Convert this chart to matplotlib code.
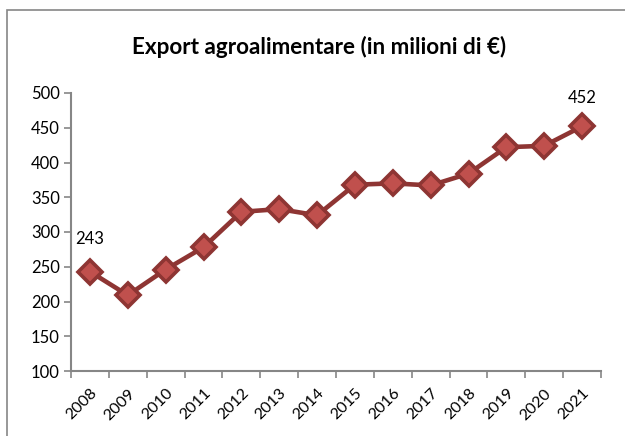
import matplotlib.pyplot as plt
from matplotlib.patches import Rectangle
from matplotlib.ticker import FixedLocator

plt.rcParams["font.family"] = ["Lato", "DejaVu Sans"]

years = ["2008", "2009", "2010", "2011", "2012", "2013", "2014",
         "2015", "2016", "2017", "2018", "2019", "2020", "2021"]
export = [243, 209, 246, 278, 329, 333, 324, 368, 370, 367, 384, 422, 424, 452]
yticks = [100, 150, 200, 250, 300, 350, 400, 450, 500]

LINE = "#8E3533"
FACE = "#C0504D"
AXIS = "#868686"

fig = plt.figure(figsize=(6.25, 4.36), dpi=100)
fig.patches.append(Rectangle((7 / 625, -0.1), 1.2, 1 - 10 / 436 + 0.1,
                             transform=fig.transFigure, fill=False,
                             ec=AXIS, lw=1.2))

ax = fig.add_axes([71 / 625, 1 - 371 / 436, 530 / 625, 278 / 436])
x = list(range(len(years)))
ax.plot(x, export, color=LINE, lw=3.3, marker="D", ms=12.5,
        mfc=FACE, mec=LINE, mew=2.6, zorder=3, clip_on=False)

ax.set_xlim(-0.5, len(years) - 0.5)
ax.set_ylim(100, 500)
ax.set_yticks(yticks)
ax.set_xticks(x)
ax.set_xticklabels(years, rotation=45, ha="right", va="top",
                   rotation_mode="anchor", fontsize=11.5)
ax.xaxis.set_minor_locator(FixedLocator([i - 0.5 for i in range(len(years) + 1)]))
ax.tick_params(axis="x", which="major", length=0, pad=11)
ax.tick_params(axis="x", which="minor", length=5, color=AXIS, width=1.2)
ax.tick_params(axis="y", length=5, color=AXIS, width=1.2, labelsize=12, pad=3)

for s in ("top", "right"):
    ax.spines[s].set_visible(False)
for s in ("left", "bottom"):
    ax.spines[s].set_color(AXIS)
    ax.spines[s].set_linewidth(1.5)

ax.annotate(str(export[0]), (x[0], export[0]), xytext=(0, 18),
            textcoords="offset points", ha="center", va="bottom", fontsize=12)
ax.annotate(str(export[-1]), (x[-1], export[-1]), xytext=(0, 15),
            textcoords="offset points", ha="center", va="bottom", fontsize=12)

fig.text(319 / 625, 1 - 47 / 436, "Export agroalimentare (in milioni di €)",
         ha="center", va="center", fontsize=16.2, fontweight="bold")

fig.savefig("out.png", dpi=100)
